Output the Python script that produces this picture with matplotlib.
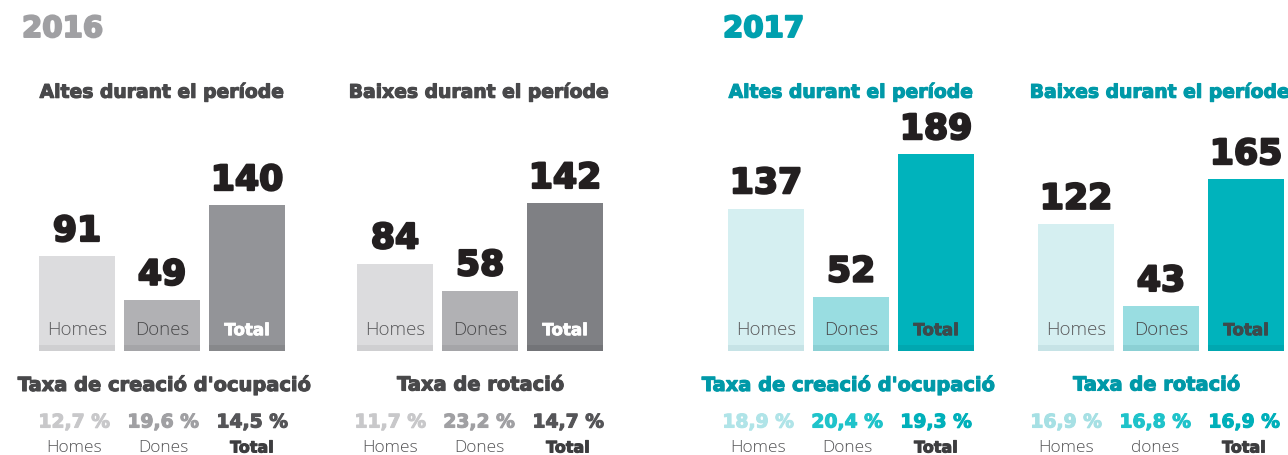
import matplotlib
matplotlib.use("Agg")
import matplotlib.pyplot as plt
import matplotlib.transforms as mtransforms
import matplotlib.patheffects as pe

plt.rcParams['font.family'] = ['DejaVu Sans']
LIGHT = ['Open Sans', 'DejaVu Sans']

# dades de personal 2016 / 2017
categories = ['Homes', 'Dones', 'Total']
altes_2016 = [91, 49, 140]
baixes_2016 = [84, 58, 142]
altes_2017 = [137, 52, 189]
baixes_2017 = [122, 43, 165]

creacio_2016 = ['12,7 %', '19,6 %', '14,5 %']
rotacio_2016 = ['11,7 %', '23,2 %', '14,7 %']
creacio_2017 = ['18,9 %', '20,4 %', '19,3 %']
rotacio_2017 = ['16,9 %', '16,8 %', '16,9 %']

pct_labels_2016 = ['Homes', 'Dones', 'Total']
pct_labels_2017a = ['Homes', 'Dones', 'Total']
pct_labels_2017b = ['Homes', 'dones', 'Total']

W, H = 1288, 455
fig = plt.figure(figsize=(W / 100, H / 100), dpi=100)


def fx(px):
    return px / W


def fy(py):
    return 1 - py / H


def heavy(color, lw=0.8):
    # engreixa una mica el text en negreta
    return [pe.withStroke(linewidth=lw, foreground=color)]


GREY_T = '#48484a'
TEAL_T = '#0099a8'

panels = [
    dict(left=34.5, vals=altes_2016, cols=['#dcdcde', '#b1b1b4', '#939498'],
         strip=['#cfcfd1', '#a5a5a8', '#87888b'], lab=['#5a5a5c', '#4a4a4c', 'white'],
         title='Altes durant el període', tcol=GREY_T, center=162),
    dict(left=352.5, vals=baixes_2016, cols=['#dcdcde', '#b1b1b4', '#7f8084'],
         strip=['#cfcfd1', '#a5a5a8', '#737478'], lab=['#5a5a5c', '#4a4a4c', 'white'],
         title='Baixes durant el període', tcol=GREY_T, center=479),
    dict(left=723.5, vals=altes_2017, cols=['#d5eff1', '#99dde1', '#00b3bc'],
         strip=['#c6e3e6', '#8bd0d4', '#00a7b0'], lab=['#5a5a5c', '#4a4a4c', '#3d4a4c'],
         title='Altes durant el període', tcol=TEAL_T, center=851),
    dict(left=1033.5, vals=baixes_2017, cols=['#d5eff1', '#99dde1', '#00b3bc'],
         strip=['#c6e3e6', '#8bd0d4', '#00a7b0'], lab=['#5a5a5c', '#4a4a4c', '#3d4a4c'],
         title='Baixes durant el període', tcol=TEAL_T, center=1160),
]

base_px = 351
scale = 1.04  # px per unit
ymax = 200
strip_h = 5.5

for p in panels:
    ax = fig.add_axes([fx(p['left']), fy(base_px), fx(255), ymax * scale / H])
    x = range(len(categories))
    ax.bar(x, p['vals'], width=76 / 85, color=p['cols'], linewidth=0)
    ax.bar(x, [strip_h] * 3, width=76 / 85, color=p['strip'], linewidth=0)
    ax.set_xlim(-0.5, 2.5)
    ax.set_ylim(0, ymax)
    ax.axis('off')
    trans = mtransforms.blended_transform_factory(ax.transData, ax.transAxes)
    for i, v in enumerate(p['vals']):
        ax.annotate(str(v), (i, v), xytext=(0, 6), textcoords='offset points',
                    ha='center', va='bottom', fontsize=25, fontweight='bold',
                    color='#231f20', path_effects=heavy('#231f20', 1.6))
        if categories[i] == 'Total':
            ax.text(i, 0.10, categories[i], transform=trans, ha='center', va='center',
                    fontsize=12, fontweight='bold', color=p['lab'][i],
                    path_effects=heavy(p['lab'][i], 0.6))
        else:
            ax.text(i, 0.10, categories[i], transform=trans, ha='center', va='center',
                    fontsize=13.5, fontweight='light', family=LIGHT, color=p['lab'][i])
    fig.text(fx(p['center']), fy(92), p['title'], ha='center', va='center',
             fontsize=13.5, fontweight='bold', color=p['tcol'],
             path_effects=heavy(p['tcol']))

# anys
fig.text(fx(22), fy(29), '2016', ha='left', va='center', fontsize=21,
         fontweight='bold', color='#a0a0a3', path_effects=heavy('#a0a0a3', 1.4))
fig.text(fx(723), fy(29), '2017', ha='left', va='center', fontsize=21,
         fontweight='bold', color='#00a0ae', path_effects=heavy('#00a0ae', 1.4))

# taxes
rates = [
    dict(center=165, title="Taxa de creació d'ocupació", tcol=GREY_T, vals=creacio_2016,
         cols=['#c8c8ca', '#a0a0a3', '#555558'], labs=pct_labels_2016),
    dict(center=481, title='Taxa de rotació', tcol=GREY_T, vals=rotacio_2016,
         cols=['#c8c8ca', '#a0a0a3', '#555558'], labs=pct_labels_2016),
    dict(center=849, title="Taxa de creació d'ocupació", tcol=TEAL_T, vals=creacio_2017,
         cols=['#b0e4e8', '#1fc3ca', '#00b0ba'], labs=pct_labels_2017a),
    dict(center=1157, title='Taxa de rotació', tcol=TEAL_T, vals=rotacio_2017,
         cols=['#a6e0e4', '#1fc3ca', '#00b0ba'], labs=pct_labels_2017b),
]

for r in rates:
    fig.text(fx(r['center']), fy(385), r['title'], ha='center', va='center',
             fontsize=14, fontweight='bold', color=r['tcol'],
             path_effects=heavy(r['tcol']))
    for k in range(3):
        cx = r['center'] - 2 + (k - 1) * 89
        fig.text(fx(cx), fy(422), r['vals'][k], ha='center', va='center',
                 fontsize=13.5, fontweight='bold', color=r['cols'][k],
                 path_effects=heavy(r['cols'][k]))
        if r['labs'][k] == 'Total':
            fig.text(fx(cx), fy(448), r['labs'][k], ha='center', va='center',
                     fontsize=11.5, fontweight='bold', color='#3d3d3f',
                     path_effects=heavy('#3d3d3f', 0.7))
        else:
            fig.text(fx(cx), fy(448), r['labs'][k], ha='center', va='center',
                     fontsize=12.5, fontweight='light', family=LIGHT, color='#555557')

fig.savefig('out.png', dpi=100, facecolor='white')
